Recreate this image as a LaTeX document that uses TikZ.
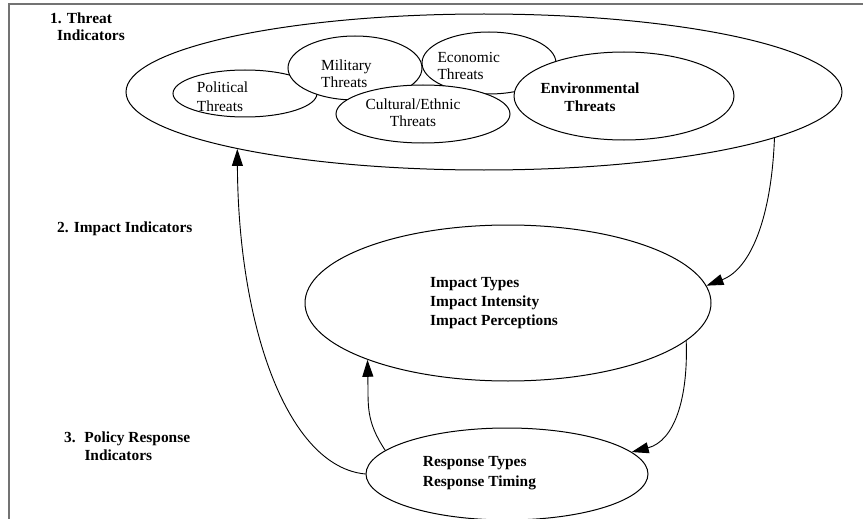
\documentclass[tikz,border=0pt]{standalone}
\usepackage{fontspec}
\setmainfont{Liberation Serif}
\usetikzlibrary{arrows.meta,shapes.geometric}
\newcommand{\txtsize}[1]{\fontsize{15.4}{#1}\selectfont}
\begin{document}
\begin{tikzpicture}[x=1pt,y=-1pt,
  frameline/.style={draw=black!55, line width=1.3pt},
  ring/.style={ellipse, draw, fill=white, line width=1pt, inner sep=0pt},
  link/.style={line width=0.9pt, -{Triangle[length=17pt,width=11pt]}},
  lbl/.style={inner sep=0pt, anchor=base west, align=left, font=\bfseries\txtsize{17.4}},
  txt/.style={inner sep=0pt, anchor=base west, align=left}]
\useasboundingbox (0,0) rectangle (863,519);

% page frame (top and left edges)
\coordinate (fa) at (9,519);
\coordinate (fb) at (9,4);
\coordinate (fc) at (863,4);
\draw[frameline] (fa) -- (fb) -- (fc);

% threat ellipses
\node[ring, minimum width=716pt, minimum height=156pt] (outer) at (484,92) {};
\node[ring, minimum width=144pt, minimum height=47pt] (political) at (245,93.5) {};
\node[ring, minimum width=134pt, minimum height=64pt] (military) at (355,68) {};
\node[ring, minimum width=134pt, minimum height=62pt] (economic) at (489,63) {};
\node[ring, minimum width=174pt, minimum height=58pt] (cultural) at (423,114) {};
\node[ring, minimum width=220pt, minimum height=88pt] (environmental) at (624,96) {};

% impact and response ellipses
\node[ring, minimum width=406pt, minimum height=156pt] (impact) at (508,303) {};
\node[ring, minimum width=282pt, minimum height=92pt] (response) at (507,474) {};

% texts inside the ellipses (anchored on the baseline of their last line)
\node[txt, font=\txtsize{19}] (tpol) at (196.7,111.7) {Political\\Threats};
\node[txt, font=\txtsize{16.7}] (tmil) at (321,87.4) {Military\\Threats};
\node[txt, font=\txtsize{17.7}] (teco) at (437.3,80) {Economic\\Threats};
\node[txt, anchor=base, align=center, font=\txtsize{16.7}] (tcul) at (413,126.7) {Cultural/Ethnic\\Threats};
\node[txt, anchor=base, align=center, font=\bfseries\txtsize{18.4}] (tenv) at (590,111.7) {Environmental\\Threats};
\node[txt, font=\bfseries\txtsize{19}] (timp) at (430,325) {Impact Types\\Impact Intensity\\Impact Perceptions};
\node[txt, font=\bfseries\txtsize{19.3}] (tres) at (422.7,486) {Response Types\\Response Timing};

% level labels
\node[lbl] (lab1) at (50,40.7) {1. Threat\\\hspace*{7pt}Indicators};
\node[lbl] (lab2) at (57,232.7) {2. Impact Indicators};
\node[lbl] (lab3) at (64,460.3) {3.\hspace{8.7pt}Policy Response\\\hspace*{20.3pt}Indicators};

% feedback connectors
\draw[link] (outer.-9.5) .. controls +(-3,78) and +(45,-17) .. (impact.5);
\draw[link] (impact.-12.5) .. controls +(2,57) and +(43,-11) .. (response.10.8);
\draw[link] (response.169) .. controls +(-20,-30) and +(1,45) .. (impact.202);
\draw[link] (response.west) .. controls +(-77,-7) and +(1,180) .. (outer.193.5);
\end{tikzpicture}
\end{document}
